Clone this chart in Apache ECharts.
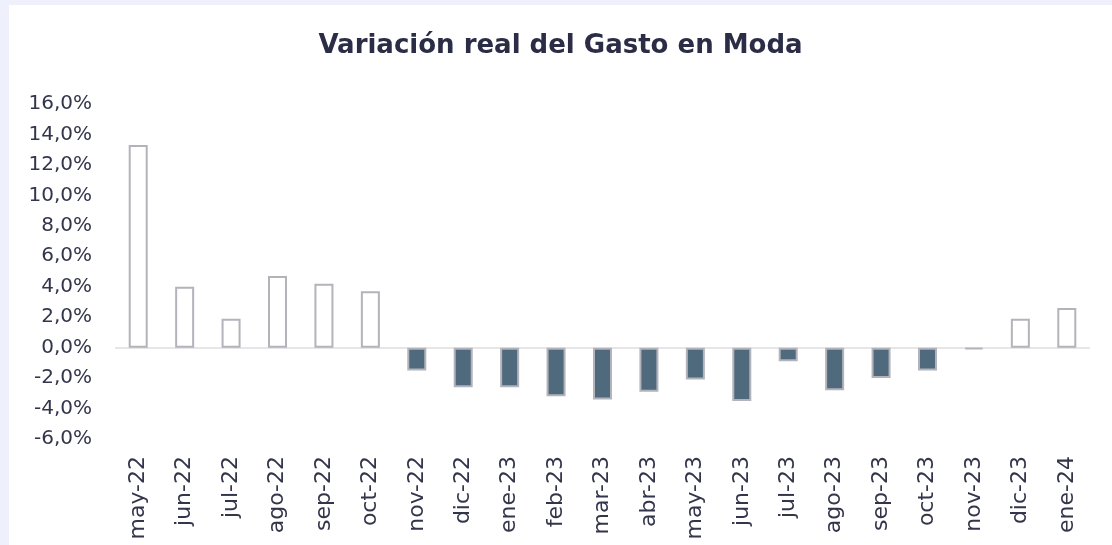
<!DOCTYPE html>
<html>
<head>
<meta charset="utf-8">
<script src="https://cdn.jsdelivr.net/npm/echarts@6/dist/echarts.min.js"></script>
<style>
html,body{margin:0;padding:0;background:#eef0fb;width:1112px;height:545px;overflow:hidden;}
#chart{position:absolute;left:9px;top:5px;width:1103px;height:540px;background:#ffffff;}
</style>
</head>
<body>
<div id="chart"></div>
<script>
const categories = ["may-22","jun-22","jul-22","ago-22","sep-22","oct-22","nov-22","dic-22","ene-23","feb-23","mar-23","abr-23","may-23","jun-23","jul-23","ago-23","sep-23","oct-23","nov-23","dic-23","ene-24"];
const variacion = [13.3, 4.0, 1.9, 4.7, 4.2, 3.7, -1.5, -2.6, -2.6, -3.2, -3.4, -2.9, -2.1, -3.5, -0.9, -2.8, -2.0, -1.5, -0.1, 1.9, 2.6];
const yTicks = {min: -6, max: 16, interval: 2};
const titleText = "Variación real del Gasto en Moda";

const textColor = '#33354b';
const chart = echarts.init(document.getElementById('chart'), null, {renderer: 'canvas'});
chart.setOption({
  animation: false,
  backgroundColor: '#ffffff',
  title: {
    text: titleText,
    left: 'center',
    top: 23,
    textStyle: {fontFamily: 'DejaVu Sans', fontWeight: 'bold', fontSize: 26, color: '#2a2d45'}
  },
  grid: {left: 106, right: 22, top: 99, bottom: 106, containLabel: false},
  xAxis: {
    type: 'category',
    data: categories,
    axisLine: {show: false, onZero: false},
    axisTick: {show: false},
    axisLabel: {rotate: 90, margin: 17, fontFamily: 'DejaVu Sans', fontSize: 22, color: textColor, interval: 0}
  },
  yAxis: {
    type: 'value',
    min: yTicks.min, max: yTicks.max, interval: yTicks.interval,
    axisLine: {show: false},
    axisTick: {show: false},
    splitLine: {show: false},
    axisLabel: {
      margin: 23, fontFamily: 'DejaVu Sans', fontSize: 20, color: textColor,
      formatter: v => v.toFixed(1).replace('.', ',') + '%'
    }
  },
  series: [{
    type: 'bar',
    data: variacion,
    barWidth: 19,
    itemStyle: {
      color: p => p.value >= 0 ? '#ffffff' : '#4e6a7c',
      borderColor: '#b3b3bb',
      borderWidth: 2
    },
    markLine: {
      silent: true,
      symbol: 'none',
      label: {show: false},
      lineStyle: {color: '#e6e6e8', width: 2, type: 'solid'},
      data: [{yAxis: 0}],
      z: 1
    }
  }]
});
</script>
</body>
</html>
